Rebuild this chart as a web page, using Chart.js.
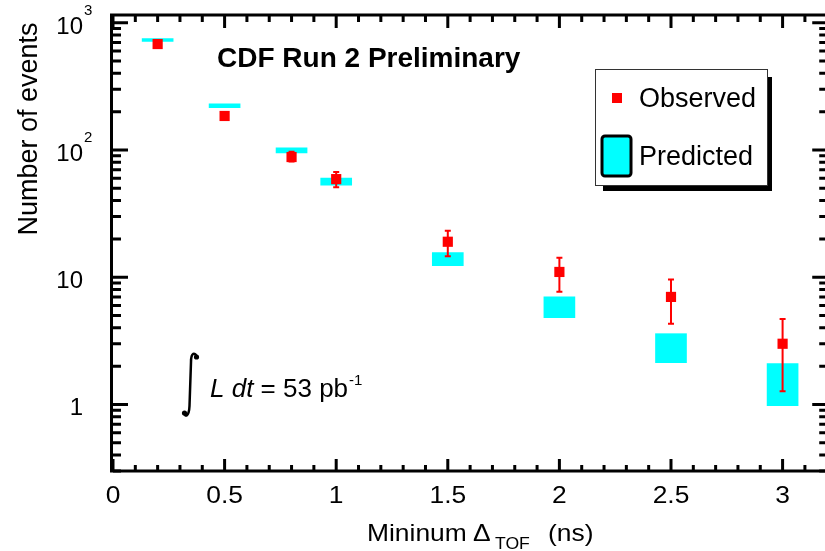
<!DOCTYPE html>
<html>
<head>
<meta charset="utf-8">
<script src="https://cdn.jsdelivr.net/npm/chart.js@4.4.0/dist/chart.umd.min.js"></script>
<style>
  html, body { margin: 0; padding: 0; overflow: hidden; background: #fff; }
  #wrap { width: 825px; height: 551px; }
</style>
</head>
<body>
<div id="wrap"><canvas id="chart" width="825" height="551"></canvas></div>
<script>
// minimum Delta_TOF cut (ns)
const cuts = [0.2, 0.5, 0.8, 1.0, 1.5, 2.0, 2.5, 3.0];
const observed = [680, 185, 88, 59, 19, 11, 7, 3];
const observedLow = [655, 172, 81, 51, 14.6, 7.7, 4.3, 1.27];
const observedHigh = [706, 199, 97, 67, 23.2, 14.2, 9.6, 4.7];
const predictedLow = [712, 215, 95, 53, 12.3, 4.8, 2.13, 0.98];
const predictedHigh = [752, 230, 104, 60, 15.6, 7.0, 3.6, 2.1];

const xTicks = [0, 0.5, 1, 1.5, 2, 2.5, 3];
const xTickLabels = ['0', '0.5', '1', '1.5', '2', '2.5', '3'];
const yTicks = [1, 10, 100, 1000];
const yTickBase = ['1', '10', '10', '10'];
const yTickExp = ['', '', '2', '3'];

const FONT = '"Liberation Sans", Arial, Helvetica, sans-serif';

function text(ctx, str, x, y, size, opts) {
  opts = opts || {};
  ctx.save();
  ctx.font = (opts.style || '') + ' ' + size + 'px ' + FONT;
  ctx.textAlign = opts.align || 'left';
  ctx.textBaseline = 'alphabetic';
  ctx.fillStyle = '#000';
  ctx.translate(x, y);
  if (opts.rotate) ctx.rotate(opts.rotate);
  ctx.scale(opts.sx || 1, 1);
  ctx.fillText(str, 0, 0);
  const w = ctx.measureText(str).width * (opts.sx || 1);
  ctx.restore();
  return w;
}

const decorations = {
  id: 'decorations',
  afterDatasetsDraw(chart) {
    const { ctx, scales: { x, y } } = chart;
    // error bars on the observed points
    ctx.save();
    ctx.strokeStyle = '#ff0000';
    ctx.lineWidth = 2;
    cuts.forEach((c, i) => {
      const px = x.getPixelForValue(c);
      const top = y.getPixelForValue(observedHigh[i]);
      const bot = y.getPixelForValue(observedLow[i]);
      ctx.beginPath();
      ctx.moveTo(px, top); ctx.lineTo(px, bot);
      ctx.moveTo(px - 3, top); ctx.lineTo(px + 3, top);
      ctx.moveTo(px - 3, bot); ctx.lineTo(px + 3, bot);
      ctx.stroke();
    });
    ctx.restore();
  },
  afterDraw(chart) {
    const { ctx, chartArea: a, scales: { x, y } } = chart;
    // the frame runs out to 3.2 ns, just past the canvas edge
    const right = x.getPixelForValue(3.2);
    ctx.save();
    ctx.strokeStyle = '#000';
    ctx.lineWidth = 3;

    ctx.strokeRect(a.left - 1.5, a.top, right - a.left + 1.5, a.bottom - a.top);

    // x ticks (inward, top and bottom)
    ctx.beginPath();
    for (let k = 0; k <= 32; k++) {
      const px = x.getPixelForValue(k / 10);
      const major = k % 5 === 0;
      ctx.moveTo(px, a.bottom); ctx.lineTo(px, a.bottom - (major ? 12 : 6));
      ctx.moveTo(px, a.top); ctx.lineTo(px, a.top + (major ? 13 : 7));
    }
    // y ticks (inward, left and right)
    [0.1, 1, 10, 100, 1000].forEach(dec => {
      for (let m = 1; m <= 9; m++) {
        const v = m * dec;
        if (v <= y.min || v >= y.max) continue;
        const py = y.getPixelForValue(v);
        const len = m === 1 ? 15 : 8;
        ctx.moveTo(a.left, py); ctx.lineTo(a.left + len, py);
        ctx.moveTo(right, py); ctx.lineTo(right - len, py);
      }
    });
    ctx.stroke();
    ctx.restore();

    // tick labels
    xTicks.forEach((v, i) => {
      text(ctx, xTickLabels[i], x.getPixelForValue(v), 503, 24, { align: 'center', sx: 1.1 });
    });
    yTicks.forEach((v, i) => {
      const py = y.getPixelForValue(v);
      text(ctx, yTickBase[i], 83, py + 11, 24, { align: 'right' });
      if (yTickExp[i]) text(ctx, yTickExp[i], 84, py - 8, 15);
    });

    // axis titles
    text(ctx, 'Number of events', 37, 129, 27, { align: 'center', rotate: -Math.PI / 2 });
    text(ctx, 'Mininum', 367, 541, 24, { sx: 1.1 });
    text(ctx, '\u0394', 473, 541, 24, { sx: 1.1 });
    text(ctx, 'TOF', 495, 549, 16, { sx: 1.1 });
    text(ctx, '(ns)', 548, 541, 24, { sx: 1.1 });

    // header
    text(ctx, 'CDF Run 2 Preliminary', 217, 67, 28, { style: 'bold' });

    // legend
    ctx.save();
    ctx.fillStyle = '#000';
    ctx.fillRect(603, 77, 169, 114);
    ctx.fillStyle = '#fff';
    ctx.fillRect(595, 69, 173, 117);
    ctx.lineWidth = 1;
    ctx.strokeStyle = '#333';
    ctx.strokeRect(595.5, 69.5, 172, 116);
    ctx.fillStyle = '#ff0000';
    ctx.fillRect(612, 93, 10, 10);
    ctx.beginPath();
    ctx.roundRect(602, 136, 29, 40, 3);
    ctx.fillStyle = '#00ffff';
    ctx.fill();
    ctx.lineWidth = 3;
    ctx.strokeStyle = '#000';
    ctx.stroke();
    ctx.restore();
    text(ctx, 'Observed', 639, 107, 27);
    text(ctx, 'Predicted', 639, 165, 27);

    // integrated luminosity
    ctx.save();
    ctx.strokeStyle = '#000';
    ctx.fillStyle = '#000';
    ctx.lineWidth = 2.5;
    ctx.beginPath();
    ctx.moveTo(197, 357);
    ctx.bezierCurveTo(195, 352, 191, 352, 191, 362);
    ctx.lineTo(189.5, 406);
    ctx.bezierCurveTo(189, 417, 185, 417, 184, 413);
    ctx.stroke();
    ctx.beginPath(); ctx.arc(196.5, 357, 2.6, 0, Math.PI * 2); ctx.fill();
    ctx.beginPath(); ctx.arc(184.5, 413, 2.6, 0, Math.PI * 2); ctx.fill();
    ctx.restore();
    let tx = 210;
    tx += text(ctx, 'L', tx, 397, 26, { style: 'italic' });
    tx += text(ctx, ' ', tx, 397, 26);
    tx += text(ctx, 'dt', tx, 397, 26, { style: 'italic' });
    tx += text(ctx, ' = 53 pb', tx, 397, 26);
    text(ctx, '-1', tx + 1, 385, 15);
  }
};

new Chart(document.getElementById('chart'), {
  type: 'scatter',
  data: {
    datasets: [{
      type: 'scatter',
      label: 'Observed',
      data: cuts.map((c, i) => ({ x: c, y: observed[i] })),
      pointStyle: 'rect',
      pointRadius: 7.2,
      pointBackgroundColor: '#ff0000',
      pointBorderWidth: 0,
      order: 0
    }, {
      type: 'bar',
      label: 'Predicted',
      data: cuts.map((c, i) => ({ x: c, y: [predictedLow[i], predictedHigh[i]] })),
      backgroundColor: '#00ffff',
      borderWidth: 0,
      barThickness: 31,
      order: 1
    }]
  },
  options: {
    responsive: false,
    animation: false,
    layout: { autoPadding: false, padding: { left: 113, right: 0, top: 15, bottom: 80 } },
    plugins: { legend: { display: false }, tooltip: { enabled: false } },
    scales: {
      // visible window ends at 3.19 ns; the frame itself sits at 3.2
      x: { type: 'linear', min: 0, max: 3.19, offset: false, display: false },
      y: { type: 'logarithmic', min: 0.3, max: 1150, display: false }
    }
  },
  plugins: [decorations]
});
</script>
</body>
</html>
